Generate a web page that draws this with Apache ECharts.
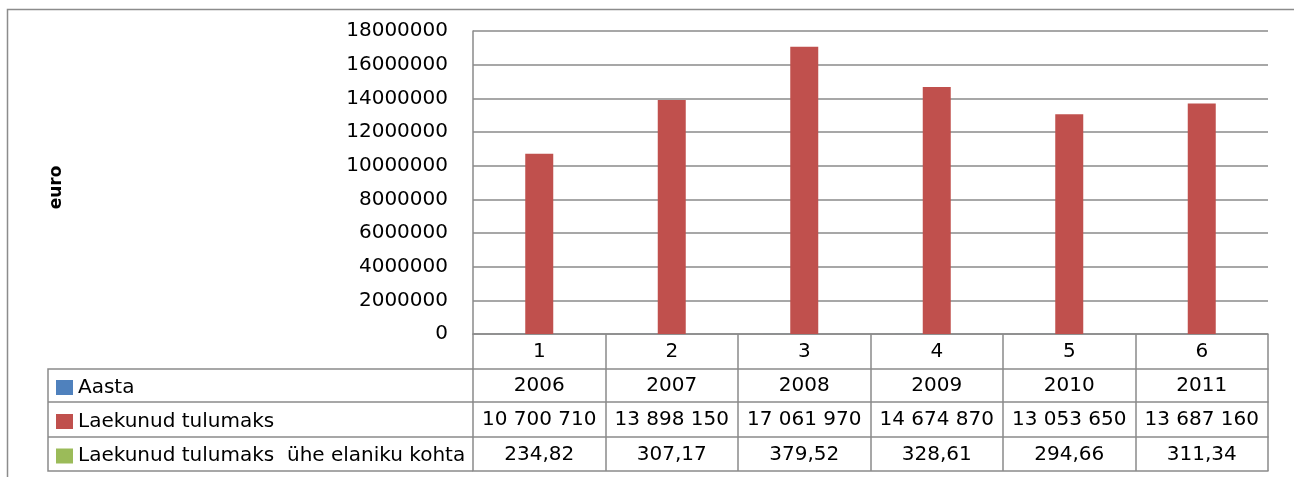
<!DOCTYPE html>
<html>
<head>
<meta charset="utf-8">
<script src="https://cdn.jsdelivr.net/npm/echarts@6/dist/echarts.min.js"></script>
<style>
  html, body { margin: 0; padding: 0; background: #fff; }
  #chart { width: 1294px; height: 477px; }
</style>
</head>
<body>
<div id="chart"></div>
<script>
// andmed
var kategooriad = ['1', '2', '3', '4', '5', '6'];
var aasta = [2006, 2007, 2008, 2009, 2010, 2011];
var tulumaks = [10700710, 13898150, 17061970, 14674870, 13053650, 13687160];
var elanikuKohta = [234.82, 307.17, 379.52, 328.61, 294.66, 311.34];
var seeriad = ['Aasta', 'Laekunud tulumaks', 'Laekunud tulumaks  ühe elaniku kohta'];
var yTicks = { min: 0, max: 18000000, interval: 2000000 };

var font = 'DejaVu Sans';
var fontSize = 20;
var joon = '#8a8a8a';

function tuhanded(v) {
  return String(v).replace(/\B(?=(\d{3})+(?!\d))/g, ' ');
}
function koma(v) {
  return v.toFixed(2).replace('.', ',');
}

// tabeli read x-telgedena
function tabeliRida(data, offset, tick, margin, showLabel) {
  return {
    type: 'category',
    gridIndex: 0,
    position: 'bottom',
    offset: offset,
    data: data,
    boundaryGap: true,
    axisLine: { show: true, lineStyle: { color: joon, width: 1.5 } },
    axisTick: { show: tick > 0, interval: 0, alignWithLabel: false, length: tick,
      lineStyle: { color: joon, width: 1.5 } },
    axisLabel: { show: showLabel, interval: 0, margin: margin, verticalAlign: 'middle',
      color: '#000', fontFamily: font, fontSize: fontSize },
    splitLine: { show: false }
  };
}

// iga legendi kirje oma reale
var legendiRead = [377.5, 411.5, 446];
var legendid = seeriad.map(function (nimi, i) {
  return {
    orient: 'vertical',
    left: 56,
    top: legendiRead[i],
    padding: 0,
    itemWidth: 17,
    itemHeight: 15,
    icon: 'rect',
    selectedMode: false,
    textStyle: { color: '#000', fontFamily: font, fontSize: fontSize },
    data: [nimi]
  };
});

var chart = echarts.init(document.getElementById('chart'));
chart.setOption({
  animation: false,
  grid: { left: 473, right: 26, top: 31, bottom: 143, containLabel: false },
  legend: legendid,
  xAxis: [
    tabeliRida(kategooriad, 0, 35, 18, true),
    tabeliRida(aasta.map(String), 35, 33, 17, true),
    tabeliRida(tulumaks.map(tuhanded), 68, 35, 17.5, true),
    tabeliRida(elanikuKohta.map(koma), 103, 34, 17.5, true),
    tabeliRida(kategooriad, 137, 0, 0, false)
  ],
  yAxis: {
    type: 'value',
    min: yTicks.min,
    max: yTicks.max,
    interval: yTicks.interval,
    name: 'euro',
    nameLocation: 'middle',
    nameRotate: 90,
    nameGap: 408,
    nameTextStyle: { color: '#000', fontFamily: font, fontSize: 17, fontWeight: 'bold',
      padding: [0, 10, 0, 0] },
    axisLine: { show: true, lineStyle: { color: joon, width: 1.5 } },
    axisTick: { show: false },
    axisLabel: { color: '#000', fontFamily: font, fontSize: fontSize, margin: 25,
      formatter: function (v) { return String(v); } },
    splitLine: { show: true, lineStyle: { color: joon, width: 1.5 } }
  },
  series: [
    { name: seeriad[0], type: 'bar', data: aasta, barWidth: 28, barGap: '0%',
      itemStyle: { color: '#4F81BD' } },
    { name: seeriad[1], type: 'bar', data: tulumaks, barWidth: 28, barGap: '0%',
      itemStyle: { color: '#C0504D' } },
    { name: seeriad[2], type: 'bar', data: elanikuKohta,
      barWidth: 28, barGap: '0%', itemStyle: { color: '#9BBB59' } }
  ],
  graphic: [
    // välimine raam
    { type: 'rect', left: 5, top: 7, shape: { width: 1320, height: 520 },
      style: { fill: null, stroke: '#8c8c8c', lineWidth: 1.5 }, silent: true },
    // legendi veerg
    { type: 'polyline', shape: { points: [[473, 369], [48, 369], [48, 471], [473, 471]] },
      style: { fill: null, stroke: joon, lineWidth: 1.5 }, silent: true },
    { type: 'line', shape: { x1: 48, y1: 402, x2: 473, y2: 402 },
      style: { stroke: joon, lineWidth: 1.5 }, silent: true },
    { type: 'line', shape: { x1: 48, y1: 437, x2: 473, y2: 437 },
      style: { stroke: joon, lineWidth: 1.5 }, silent: true }
  ]
});
</script>
</body>
</html>
